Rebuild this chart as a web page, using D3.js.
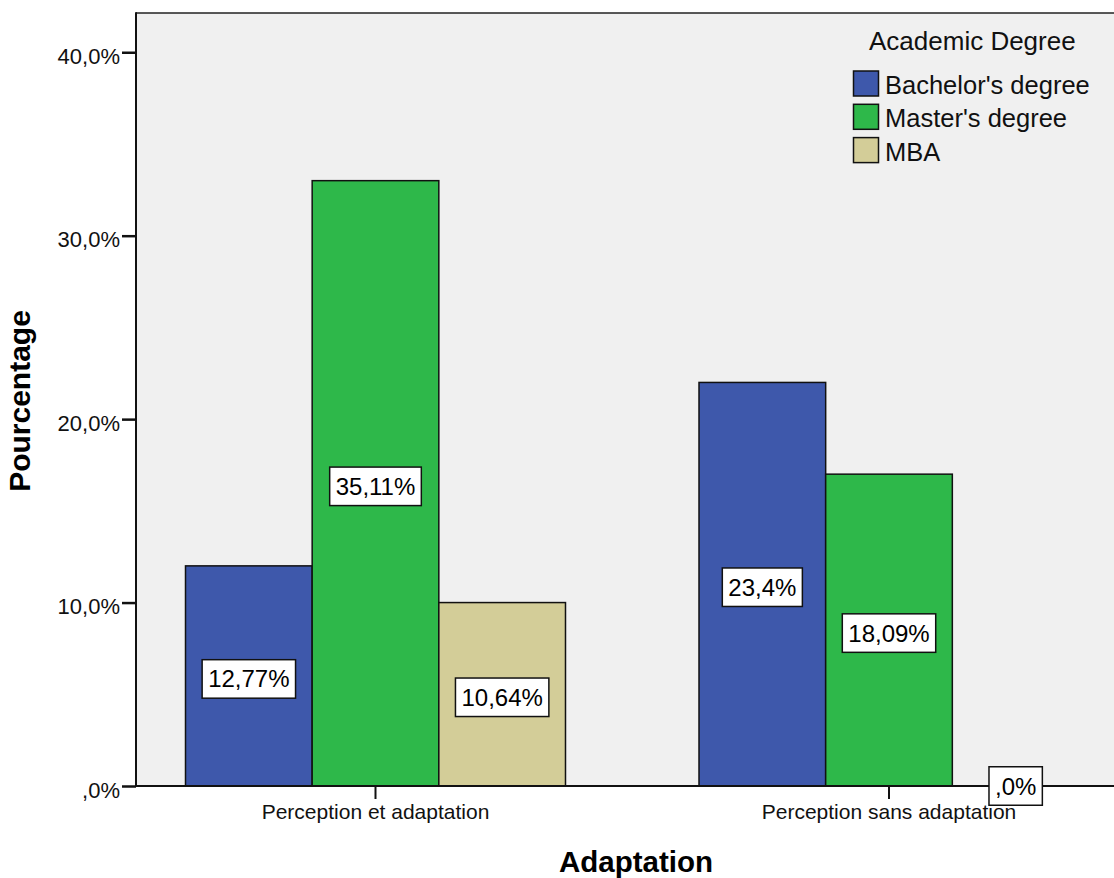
<!DOCTYPE html>
<html>
<head>
<meta charset="utf-8">
<script src="https://cdn.jsdelivr.net/npm/d3@7"></script>
<style>
  html, body { margin: 0; padding: 0; background: #ffffff; }
  svg { display: block; font-family: "Liberation Sans", Arial, Helvetica, sans-serif; }
</style>
</head>
<body>
<svg id="chart" width="1114" height="878"></svg>
<script>
// Adaptation categories on the x axis
const categories = ["Perception et adaptation", "Perception sans adaptation"];

// Academic degree series (respondent counts per category)
const seriesNames = ["Bachelor's degree", "Master's degree", "MBA"];
const bachelor = [12, 22];
const master = [33, 17];
const mba = [10, 0];

// Y axis tick values
const yTicks = [0, 10, 20, 30, 40];

const colors = ["#3E58AB", "#2EB84A", "#D3CD98"];

const seriesValues = [bachelor, master, mba];
const total = d3.sum(seriesValues.flat());

const W = 1114, H = 878;
const plot = { left: 136, top: 13, right: 1128.5, bottom: 786 };
const yMax = 42.14;

const svg = d3.select("#chart");

const x0 = d3.scaleBand()
  .domain(categories)
  .range([plot.left, plot.right])
  .paddingInner(0.26)
  .paddingOuter(0.0964);

const x1 = d3.scaleBand()
  .domain(seriesNames)
  .range([0, x0.bandwidth()]);

const y = d3.scaleLinear()
  .domain([0, yMax])
  .range([plot.bottom, plot.top]);

const color = d3.scaleOrdinal().domain(seriesNames).range(colors);

// Decimal comma, no leading zero
const tickFmt = v => {
  let s = v.toFixed(1);
  if (s.startsWith("0.")) s = s.slice(1);
  return s.replace(".", ",") + "%";
};
const pctFmt = v => {
  let s = v.toFixed(2).replace(/0+$/, "");
  if (s.endsWith(".")) s += "0";
  if (s.startsWith("0.")) s = s.slice(1);
  return s.replace(".", ",") + "%";
};

// Plot background
svg.append("rect")
  .attr("x", plot.left).attr("y", plot.top)
  .attr("width", plot.right - plot.left)
  .attr("height", plot.bottom - plot.top)
  .attr("fill", "#F0F0F0");

// Top frame line
svg.append("line")
  .attr("x1", plot.left).attr("x2", W)
  .attr("y1", plot.top).attr("y2", plot.top)
  .attr("stroke", "#222").attr("stroke-width", 1.5);

// Rows of bar data
const rows = [];
categories.forEach((c, ci) => {
  seriesNames.forEach((s, si) => {
    rows.push({ cat: c, series: s, value: seriesValues[si][ci] });
  });
});

// Bars
svg.append("g").selectAll("rect")
  .data(rows.filter(d => d.value > 0))
  .join("rect")
  .attr("x", d => x0(d.cat) + x1(d.series))
  .attr("y", d => y(d.value))
  .attr("width", x1.bandwidth())
  .attr("height", d => y(0) - y(d.value))
  .attr("fill", d => color(d.series))
  .attr("stroke", "#111")
  .attr("stroke-width", 1.5);

// Y axis
const yAxis = d3.axisLeft(y)
  .tickValues(yTicks)
  .tickFormat(tickFmt)
  .tickSize(14)
  .tickPadding(2);
const gy = svg.append("g")
  .attr("transform", `translate(${plot.left},0)`)
  .call(yAxis);
gy.select(".domain").remove();
gy.selectAll(".tick line").attr("stroke", "#111").attr("stroke-width", 2.5);
gy.selectAll(".tick text")
  .attr("font-size", 22)
  .attr("font-family", "Liberation Sans, Arial, sans-serif")
  .attr("fill", "#111")
  .attr("dy", "11")
  .attr("dominant-baseline", "auto");
svg.append("line")
  .attr("x1", plot.left).attr("x2", plot.left)
  .attr("y1", plot.top - 0.75).attr("y2", plot.bottom + 1)
  .attr("stroke", "#111").attr("stroke-width", 2);

// X axis
const xAxis = d3.axisBottom(x0)
  .tickSize(13)
  .tickPadding(7)
  .tickSizeOuter(0);
const gx = svg.append("g")
  .attr("transform", `translate(0,${plot.bottom})`)
  .call(xAxis);
gx.select(".domain").remove();
gx.selectAll(".tick line").attr("stroke", "#111").attr("stroke-width", 2);
gx.selectAll(".tick text")
  .attr("font-size", 21)
  .attr("font-family", "Liberation Sans, Arial, sans-serif")
  .attr("fill", "#111")
  .attr("dy", "0")
  .attr("y", 33);
svg.append("line")
  .attr("x1", plot.left - 1).attr("x2", W)
  .attr("y1", plot.bottom).attr("y2", plot.bottom)
  .attr("stroke", "#111").attr("stroke-width", 2);

// Value labels in white boxes
const labels = svg.append("g").selectAll("g")
  .data(rows)
  .join("g")
  .attr("transform", d => {
    const cx = x0(d.cat) + x1(d.series) + x1.bandwidth() / 2;
    const cy = d.value > 0 ? (y(d.value) + y(0)) / 2 + 3 : y(0);
    return `translate(${cx},${cy})`;
  });
labels.each(function (d) {
  const g = d3.select(this);
  const txt = g.append("text")
    .attr("text-anchor", "middle")
    .attr("y", 8.5)
    .attr("font-size", 24)
    .attr("fill", "#000")
    .text(pctFmt(d.value / total * 100));
  const w = txt.node().getComputedTextLength() + 12;
  g.insert("rect", "text")
    .attr("x", -w / 2).attr("y", -19.25)
    .attr("width", w).attr("height", 38.5)
    .attr("fill", "#fff")
    .attr("stroke", "#111")
    .attr("stroke-width", 1.5);
});

// Axis titles
svg.append("text")
  .attr("x", 636).attr("y", 872)
  .attr("text-anchor", "middle")
  .attr("font-size", 29.5)
  .attr("font-weight", "bold")
  .attr("fill", "#000")
  .text("Adaptation");

svg.append("text")
  .attr("transform", "translate(30,401) rotate(-90)")
  .attr("text-anchor", "middle")
  .attr("font-size", 30)
  .attr("font-weight", "bold")
  .attr("fill", "#000")
  .text("Pourcentage");

// Legend
const legend = svg.append("g");
legend.append("text")
  .attr("x", 869).attr("y", 50)
  .attr("font-size", 26)
  .attr("fill", "#111")
  .text("Academic Degree");
const items = legend.selectAll("g.item")
  .data(seriesNames)
  .join("g")
  .attr("class", "item")
  .attr("transform", (d, i) => `translate(853.5,${71 + i * 33.3})`);
items.append("rect")
  .attr("width", 25).attr("height", 25)
  .attr("fill", d => color(d))
  .attr("stroke", "#111").attr("stroke-width", 1.5);
items.append("text")
  .attr("x", 31.5).attr("y", 23)
  .attr("font-size", 25.5)
  .attr("fill", "#111")
  .text(d => d);
</script>
</body>
</html>
